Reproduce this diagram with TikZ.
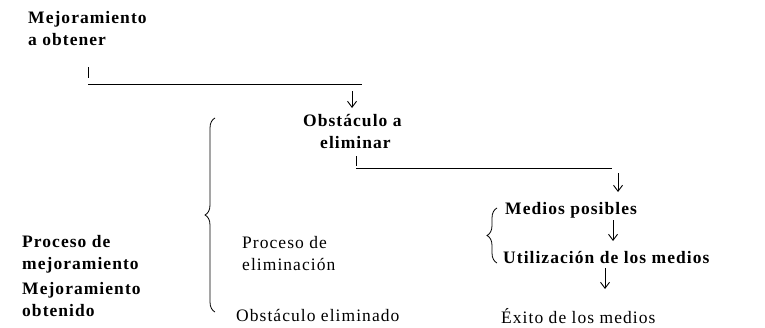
\documentclass[tikz,border=0pt]{standalone}
\usepackage{fontspec}
\setmainfont{Liberation Serif}[LetterSpace=6]
\usetikzlibrary{arrows.meta,decorations.pathreplacing}
\begin{document}
\begin{tikzpicture}[x=1pt,y=-1pt,
  lbl/.style={anchor=west,inner sep=0pt,font=\fontsize{17.5}{22}\selectfont,align=left},
  blbl/.style={lbl,font=\fontsize{17.5}{22}\selectfont\bfseries},
  conn/.style={line width=0.7pt},
  darr/.style={line width=0.9pt,-{Straight Barb[length=6pt,width=9pt]}},
  brc/.style={line width=0.8pt,decorate,decoration={brace,amplitude=10pt}}]
\useasboundingbox (0,0) rectangle (765,327);
% texts
\node[blbl] (ao) at (28,29) {Mejoramiento\\a obtener};
\node[blbl] (oe) at (303,132) {Obstáculo a\\\hspace*{17pt}eliminar};
\node[blbl] (pm) at (22,254) {Proceso de\\mejoramiento};
\node[blbl] (mo) at (22,300) {Mejoramiento\\obtenido};
\node[lbl] (pe) at (242,254) {Proceso de\\eliminación};
\node[lbl] (ob) at (236,315) {Obstáculo eliminado};
\node[blbl] (mp) at (505,210) {Medios posibles};
\node[blbl] (um) at (503,258) {Utilización de los medios};
\node[lbl] (em) at (501,316) {Éxito de los medios};
% connector 1
\coordinate (t1a) at (88,67);
\coordinate (t1b) at (88,78);
\coordinate (h1a) at (88,84);
\coordinate (h1b) at (362,84);
\coordinate (a1) at (352,91);
\draw[conn] (t1a) -- (t1b);
\draw[conn] (h1a) -- (h1b);
\draw[darr] (a1) -- (352,108);
% connector 2
\coordinate (t2a) at (356,156);
\coordinate (t2b) at (356,166);
\coordinate (h2a) at (356,168);
\coordinate (h2b) at (612,168);
\coordinate (a2) at (618,173);
\draw[conn] (t2a) -- (t2b);
\draw[conn] (h2a) -- (h2b);
\draw[darr] (a2) -- (618,192);
% arrows between items
\draw[darr] (613,220) -- (613,241);
\draw[darr] (605,268) -- (605,289);
% braces
\draw[brc] (215,312) -- (215,118);
\draw[brc] (497,263) -- (497,208);
\end{tikzpicture}
\end{document}
